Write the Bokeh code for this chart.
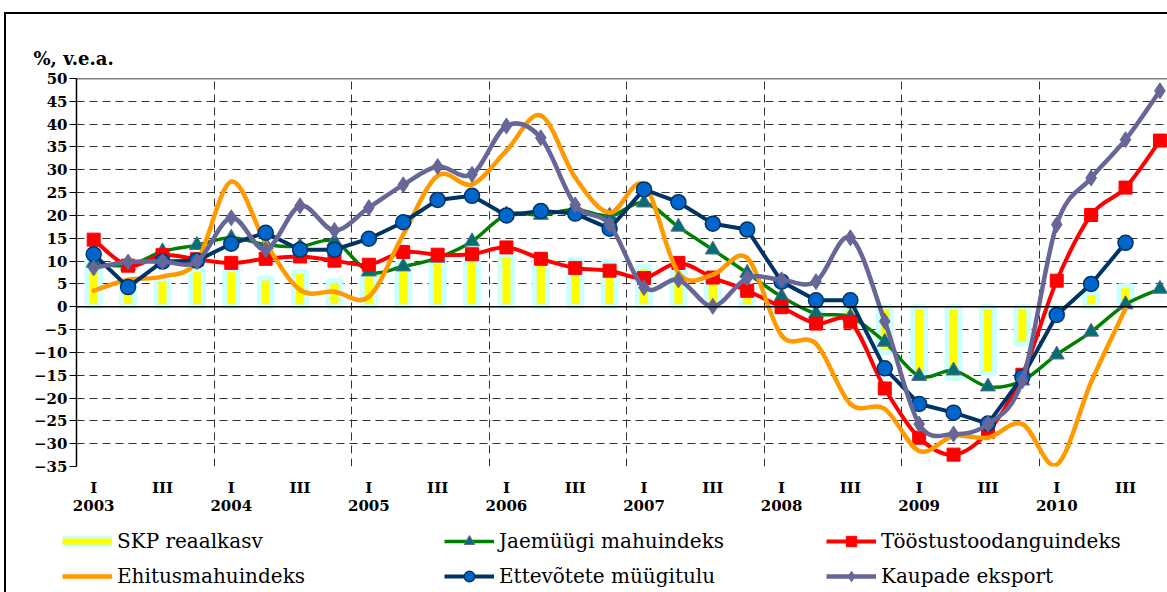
from bokeh.plotting import figure
from bokeh.layouts import column
from bokeh.models import (FixedTicker, Span, Legend, LegendItem, LinearAxis,
                          Range1d, ColumnDataSource)
from bokeh.embed import file_html
from bokeh.resources import INLINE

# ---------------- data ----------------
years = [2003, 2004, 2005, 2006, 2007, 2008, 2009, 2010]
quarter_names = ["I", "II", "III", "IV"]
shown_quarters = ["I", "III"]

skp = [10.0, 5.0, 6.1, 8.1, 8.1, 6.3, 7.7, 5.7, 7.2, 9.7, 10.3, 10.3, 11.4, 10.1, 10.3, 9.8,
       8.8, 7.9, 6.1, 4.5, -1.0, -1.5, -3.5, -10.0, -14.7, -15.8, -14.6, -8.2, -2.0, 3.0, 4.6, None]
jaemyyk = [9.6, 9.0, 12.1, 13.5, 15.1, 13.6, 13.2, 14.3, 7.7, 8.8, 10.7, 14.3, 20.2, 20.1, 21.3, 19.9,
           22.8, 17.5, 12.5, 7.4, 2.2, -1.5, -2.2, -7.7, -15.2, -14.0, -17.5, -16.2, -10.5, -5.5, 0.5, 3.9]
toostus = [14.7, 9.0, 11.3, 10.4, 9.6, 10.5, 11.0, 10.1, 9.2, 12.0, 11.4, 11.5, 13.0, 10.5, 8.5, 7.9,
           6.3, 9.6, 6.4, 3.5, -0.1, -3.7, -3.3, -17.9, -28.7, -32.4, -27.4, -14.9, 5.7, 20.1, 26.1, 36.4]
ehitus = [3.5, 5.9, 6.6, 10.0, 27.4, 14.0, 3.7, 3.3, 2.2, 15.8, 28.7, 26.8, 34.2, 41.9, 28.3, 20.6,
          26.7, 7.4, 7.0, 10.7, -6.3, -8.1, -21.3, -22.4, -31.6, -28.3, -28.7, -25.7, -34.6, -16.5, -0.4, None]
myygitulu = [11.5, 4.3, 9.9, 10.1, 13.8, 16.2, 12.5, 12.5, 14.9, 18.5, 23.4, 24.3, 20.0, 21.0, 20.4, 17.1,
             25.7, 22.9, 18.2, 16.9, 5.5, 1.4, 1.4, -13.5, -21.3, -23.2, -25.6, -15.4, -1.8, 5.0, 14.0, None]
eksport = [8.5, 9.8, 9.9, 9.9, 19.5, 12.5, 22.1, 16.7, 21.7, 26.7, 30.7, 29.0, 39.6, 37.0, 22.3, 18.0,
           4.2, 5.9, 0.1, 6.3, 5.9, 5.5, 15.1, -3.2, -25.7, -27.9, -25.7, -16.2, 18.0, 28.2, 36.6, 47.3]

y_ticks = list(range(-35, 55, 5))

labels = ["SKP reaalkasv", "Jaemüügi mahuindeks", "Tööstustoodanguindeks",
          "Ehitusmahuindeks", "Ettevõtete müügitulu", "Kaupade eksport"]

# ---------------- helpers ----------------
n_q = len(years) * len(quarter_names)
xs = list(range(n_q))


def pts(vals):
    return [(x, v) for x, v in zip(xs, vals) if v is not None]


def smooth(vals):
    pp = pts(vals)
    n = len(pp)
    d = dict(x0=[], y0=[], x1=[], y1=[], cx0=[], cy0=[], cx1=[], cy1=[])
    for i in range(n - 1):
        p0 = pp[max(i - 1, 0)]
        p1 = pp[i]
        p2 = pp[i + 1]
        p3 = pp[min(i + 2, n - 1)]
        d["x0"].append(p1[0]); d["y0"].append(p1[1])
        d["x1"].append(p2[0]); d["y1"].append(p2[1])
        d["cx0"].append(p1[0] + (p2[0] - p0[0]) / 6.0)
        d["cy0"].append(p1[1] + (p2[1] - p0[1]) / 6.0)
        d["cx1"].append(p2[0] - (p3[0] - p1[0]) / 6.0)
        d["cy1"].append(p2[1] - (p3[1] - p1[1]) / 6.0)
    return ColumnDataSource(d)


def src(vals):
    pp = pts(vals)
    return ColumnDataSource(dict(x=[a for a, _ in pp], y=[b for _, b in pp]))


FONT = "DejaVu Serif"
GREEN, RED, ORANGE, NAVY, PURPLE = "#008000", "#FF0000", "#FF9900", "#003366", "#666699"
TEAL, BLUE, YELLOW, CYAN = "#007070", "#0066CC", "#FFFF00", "#CCFFFF"

# ---------------- main figure ----------------
p = figure(width=1167, height=520, output_backend="svg", toolbar_location=None,
           x_range=Range1d(-0.5, 31.22), y_range=Range1d(-35, 50),
           min_border_left=76, min_border_top=78, min_border_bottom=54, min_border_right=0)
p.outline_line_color = None
p.background_fill_color = "white"
p.border_fill_color = None
p.frame_align = False

# unit label
p.title.text = "%, v.e.a."
p.title.align = "left"
p.title.offset = -43
p.title.text_font = FONT
p.title.text_font_size = "18px"
p.title.text_font_style = "bold"
p.title.text_color = "black"
p.title.standoff = 20

# y axis
yax = p.yaxis[0]
yax.ticker = FixedTicker(ticks=y_ticks)
yax.major_label_text_font = FONT
yax.major_label_text_font_size = "15px"
yax.major_label_text_font_style = "bold"
yax.major_label_text_color = "black"
yax.axis_line_color = "black"
yax.axis_line_width = 1.5
yax.major_tick_in = 0
yax.major_tick_out = 7
yax.major_tick_line_color = "black"
yax.minor_tick_line_color = None
yax.major_label_standoff = 2

# x axes: quarters, then years
q_pos, q_lab, y_pos, y_lab = [], {}, [], {}
for yi, yr in enumerate(years):
    for qi, qn in enumerate(quarter_names):
        pos = yi * len(quarter_names) + qi
        if qn in shown_quarters:
            q_pos.append(pos)
            q_lab[pos] = qn
        if qi == 0:
            y_pos.append(pos)
            y_lab[pos] = str(yr)


def style_xaxis(ax, ticks, lab, standoff):
    ax.ticker = FixedTicker(ticks=ticks)
    ax.major_label_overrides = lab
    ax.axis_line_color = None
    ax.major_tick_line_color = None
    ax.minor_tick_line_color = None
    ax.major_tick_in = 0
    ax.major_tick_out = 0
    ax.minor_tick_in = 0
    ax.minor_tick_out = 0
    ax.axis_label_standoff = 0
    ax.major_label_text_font = FONT
    ax.major_label_text_font_size = "15px"
    ax.major_label_text_font_style = "bold"
    ax.major_label_text_color = "black"
    ax.major_label_standoff = standoff


style_xaxis(p.xaxis[0], q_pos, q_lab, 12)
year_axis = LinearAxis()
style_xaxis(year_axis, y_pos, y_lab, 0)
p.add_layout(year_axis, "below")

# grids
p.ygrid.ticker = FixedTicker(ticks=y_ticks)
p.ygrid.grid_line_color = "#333333"
p.ygrid.grid_line_dash = "8 5"
p.ygrid.grid_line_width = 1
year_bounds = [yi * len(quarter_names) - 0.5 for yi in range(1, len(years) + 1)]
p.xgrid.ticker = FixedTicker(ticks=year_bounds)
p.xgrid.grid_line_color = "#333333"
p.xgrid.grid_line_dash = "8 5"
p.xgrid.grid_line_width = 1

# bars
p.vbar(x="x", top="y", bottom=0, width=0.38, source=src(skp),
       fill_color=YELLOW, line_color=CYAN, line_width=5)

p.add_layout(Span(location=0, dimension="width", line_color="black", line_width=1.5))
p.add_layout(Span(location=50, dimension="width", line_color="black", line_width=1.5))

# series
p.bezier("x0", "y0", "x1", "y1", "cx0", "cy0", "cx1", "cy1", source=smooth(jaemyyk),
         line_color=GREEN, line_width=3.5, line_cap="round")
p.scatter("x", "y", source=src(jaemyyk), marker="triangle", size=15,
          fill_color=TEAL, line_color=PURPLE, line_width=1)

p.bezier("x0", "y0", "x1", "y1", "cx0", "cy0", "cx1", "cy1", source=smooth(toostus),
         line_color=RED, line_width=4, line_cap="round")
p.scatter("x", "y", source=src(toostus), marker="square", size=13,
          fill_color=RED, line_color=RED)

p.bezier("x0", "y0", "x1", "y1", "cx0", "cy0", "cx1", "cy1", source=smooth(ehitus),
         line_color=ORANGE, line_width=4.5, line_cap="round")

p.line("x", "y", source=src(myygitulu), line_color=NAVY, line_width=4, line_join="round")
p.scatter("x", "y", source=src(myygitulu), marker="circle", size=15,
          fill_color=BLUE, line_color=NAVY, line_width=1.5)

p.bezier("x0", "y0", "x1", "y1", "cx0", "cy0", "cx1", "cy1", source=smooth(eksport),
         line_color=PURPLE, line_width=4.5, line_cap="round")
p.scatter("x", "y", source=src(eksport), marker="diamond", size=16,
          fill_color=PURPLE, line_color=PURPLE)

# ---------------- legend strip ----------------
# The strip's view ranges lie away from the data, so its series renderers stay hidden
# and serve only as legend swatches.
lf = figure(width=1167, height=72, output_backend="svg", toolbar_location=None, title=None,
            x_range=Range1d(-200, -199), y_range=Range1d(-200, -199),
            x_axis_type=None, y_axis_type=None,
            min_border=0, min_border_left=0, min_border_right=0,
            min_border_top=0, min_border_bottom=0)
lf.grid.visible = False
lf.outline_line_color = None
lf.background_fill_alpha = 0
lf.border_fill_color = None
lf.frame_align = False

skp_a = lf.line("x", "y", source=src(skp), line_color=CYAN, line_width=12)
skp_b = lf.line("x", "y", source=src(skp), line_color=YELLOW, line_width=6)
g_l = lf.line("x", "y", source=src(jaemyyk), line_color=GREEN, line_width=3.5)
g_m = lf.scatter("x", "y", source=src(jaemyyk), marker="triangle", size=15,
                 fill_color=TEAL, line_color=PURPLE)
r_l = lf.line("x", "y", source=src(toostus), line_color=RED, line_width=4)
r_m = lf.scatter("x", "y", source=src(toostus), marker="square", size=13,
                 fill_color=RED, line_color=RED)
o_l = lf.line("x", "y", source=src(ehitus), line_color=ORANGE, line_width=4.5)
n_l = lf.line("x", "y", source=src(myygitulu), line_color=NAVY, line_width=4)
n_m = lf.scatter("x", "y", source=src(myygitulu), marker="circle", size=15,
                 fill_color=BLUE, line_color=NAVY, line_width=1.5)
k_l = lf.line("x", "y", source=src(eksport), line_color=PURPLE, line_width=4.5)
k_m = lf.scatter("x", "y", source=src(eksport), marker="diamond", size=16,
                 fill_color=PURPLE, line_color=PURPLE)

legend = Legend(items=[
    LegendItem(label=labels[0], renderers=[skp_a, skp_b]),
    LegendItem(label=labels[1], renderers=[g_l, g_m]),
    LegendItem(label=labels[2], renderers=[r_l, r_m]),
    LegendItem(label=labels[3], renderers=[o_l]),
    LegendItem(label=labels[4], renderers=[n_l, n_m]),
    LegendItem(label=labels[5], renderers=[k_l, k_m]),
], location=(62, 3), orientation="horizontal", ncols=3,
    glyph_width=50, glyph_height=26, label_height=26, label_standoff=5, label_width=318,
    spacing=9, padding=0, margin=0, border_line_color=None, background_fill_alpha=0,
    label_text_font=FONT, label_text_font_size="20px", label_text_color="black")
lf.add_layout(legend)

layout = column(p, lf, spacing=0, styles={
    "background-color": "white",
    "background-image": "linear-gradient(#000,#000), linear-gradient(#000,#000)",
    "background-position": "4px 12px, 4px 12px",
    "background-size": "2px 700px, 1300px 2px",
    "background-repeat": "no-repeat, no-repeat",
})

open("out.html", "w").write(file_html(layout, INLINE))
